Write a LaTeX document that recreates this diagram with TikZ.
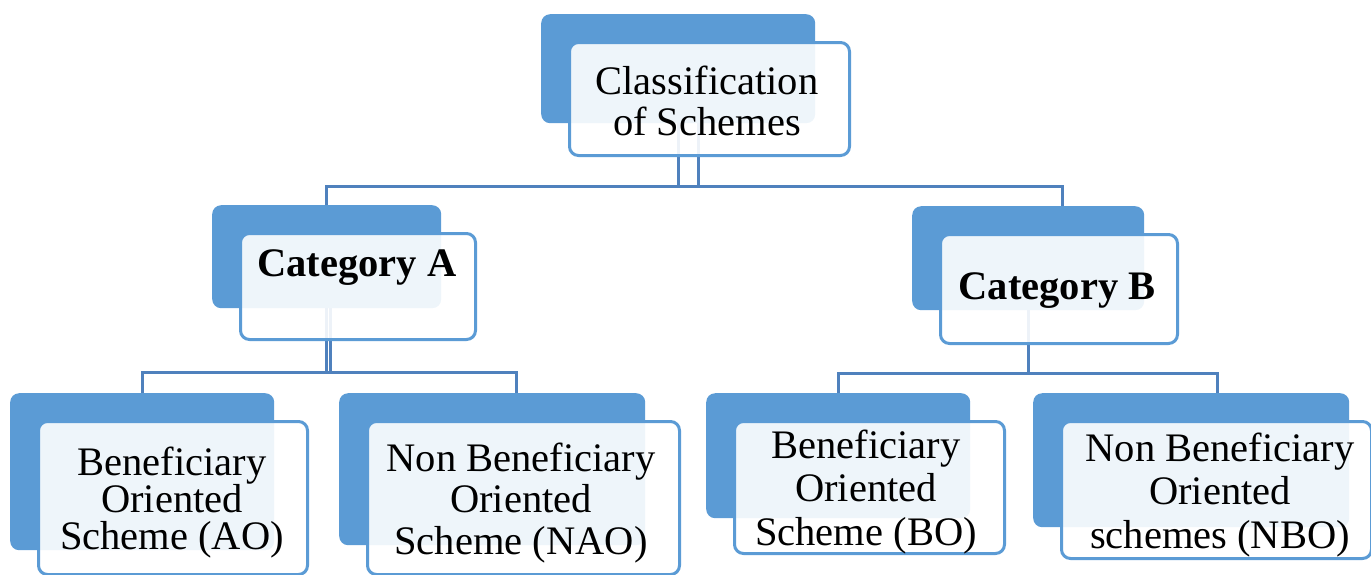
\documentclass[tikz,border=0pt]{standalone}
\usepackage{fontspec}
\setmainfont{Liberation Serif}
\usetikzlibrary{positioning}
\definecolor{accent}{HTML}{5B9BD5}
\definecolor{linkblue}{HTML}{4F81BD}

\begin{document}
\begin{tikzpicture}[x=1pt, y=-1pt,
    backbox/.style={fill=accent, rounded corners=9pt, inner sep=0pt, anchor=north west},
    frontbox/.style={draw=accent, line width=3pt, fill=white, fill opacity=0.9,
        rounded corners=9pt, inner sep=0pt, below right=27pt and 27pt of #1},
    link/.style={draw=linkblue, line width=3pt},
    txt/.style={font=\fontsize{40.5}{#1}\selectfont, align=center},
    txt/.default=41]
    \useasboundingbox (0,0) rectangle (1371,574);

    \node [backbox, minimum width=274pt, minimum height=109pt] (root-back) at (541,14) {};
    \node [backbox, minimum width=229pt, minimum height=103pt] (cata-back) at (212,205) {};
    \node [backbox, minimum width=232pt, minimum height=104pt] (catb-back) at (912,206) {};
    \node [backbox, minimum width=264pt, minimum height=157pt] (ao-back) at (10,393) {};
    \node [backbox, minimum width=306pt, minimum height=152pt] (nao-back) at (339,393) {};
    \node [backbox, minimum width=264pt, minimum height=125pt] (bo-back) at (706,393) {};
    \node [backbox, minimum width=316pt, minimum height=134pt] (nbo-back) at (1033,393) {};

    \draw [link] (root-back.south) -- ++(0,63);
    \draw [link] ([xshift=20pt]root-back.south) -- ++(0,63);
    \draw [link] (cata-back.north) -- ++(0,-19) -| ([xshift=34pt]catb-back.north);

    \draw [link] (cata-back.south) -- ++(0,64);
    \draw [link] ([xshift=4pt]cata-back.south) -- ++(0,64);
    \draw [link] (ao-back.north) -- ++(0,-21) -| ([xshift=24pt]nao-back.north);

    \draw [link] (catb-back.south) -- ++(0,63);
    \draw [link] (bo-back.north) -- ++(0,-20) -| ([xshift=26pt]nbo-back.north);

    \node [frontbox=root-back.north west, minimum width=280pt, minimum height=113pt] (root-front) {};
    \node [frontbox=cata-back.north west, minimum width=235pt, minimum height=106pt] (cata-front) {};
    \node [frontbox=catb-back.north west, minimum width=237pt, minimum height=109pt] (catb-front) {};
    \node [frontbox=ao-back.north west, minimum width=269pt, minimum height=153pt] (ao-front) {};
    \node [frontbox=nao-back.north west, minimum width=312pt, minimum height=153pt] (nao-front) {};
    \node [frontbox=bo-back.north west, minimum width=270pt, minimum height=132pt] (bo-front) {};
    \node [frontbox=nbo-back.north west, minimum width=310pt, minimum height=137pt] (nbo-front) {};

    \node [txt] (root-txt) at (707,101) {Classification\\of Schemes};
    \node [txt] (cata-txt) at (357,268) {\textbf{Category A}};
    \node [txt] (catb-txt) at (1057,291) {\textbf{Category B}};
    \node [txt=37] (ao-txt) at (172,503) {Beneficiary\\Oriented\\Scheme (AO)};
    \node [txt=41.5] (nao-txt) at (521,503) {Non Beneficiary\\Oriented\\Scheme (NAO)};
    \node [txt=43.5] (bo-txt) at (866,492) {Beneficiary\\Oriented\\Scheme (BO)};
    \node [txt=43.5] (nbo-txt) at (1220,495) {Non Beneficiary\\Oriented\\schemes (NBO)};
\end{tikzpicture}
\end{document}
